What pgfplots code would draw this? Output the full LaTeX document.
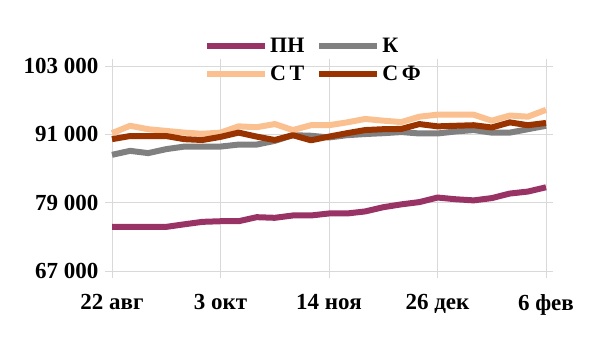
\documentclass[border=0pt]{standalone}
\usepackage{pgfplots}
\pgfplotsset{compat=1.18}
\usepackage{pgfplotstable}
\usepackage{fontspec}
\setmainfont{Liberation Serif}
\definecolor{cpn}{HTML}{993366}
\definecolor{ck}{HTML}{808080}
\definecolor{cst}{HTML}{FAC090}
\definecolor{csf}{HTML}{993300}
\definecolor{cgrid}{HTML}{D9D9D9}
\pgfplotstableread{
i pn k st sf
0 74750 87400 91200 90150
1 74750 88100 92500 90700
2 74750 87700 91900 90700
3 74750 88400 91600 90700
4 75200 88850 91300 90150
5 75630 88850 91100 90000
6 75740 88850 91300 90550
7 75740 89200 92400 91300
8 76450 89200 92250 90600
9 76340 89850 92800 90000
10 76750 90850 91750 90850
11 76750 90750 92600 89950
12 77100 90450 92600 90600
13 77100 90850 93100 91200
14 77460 91050 93700 91750
15 78200 91200 93400 91900
16 78700 91400 93150 91950
17 79100 91150 94100 92800
18 79900 91150 94450 92400
19 79600 91500 94450 92500
20 79400 91750 94450 92600
21 79800 91300 93400 92200
22 80600 91300 94300 93100
23 80950 91900 94100 92600
24 81700 92500 95300 93000
}\datatable
\begin{document}
\begin{tikzpicture}[x=1pt,y=1pt]
\begin{axis}[
  at={(112pt,87pt)}, anchor=south west,
  scale only axis, width=434pt, height=205pt,
  xmin=0, xmax=24, ymin=67000, ymax=103000,
  scaled y ticks=false,
  xtick={0,6,12,18,24},
  xticklabels={22 авг, 3 окт, 14 ноя, 26 дек, 6 фев},
  ytick={67000,79000,91000,103000},
  yticklabels={67 000, 79 000, 91 000, 103 000},
  axis line style={draw=none},
  grid=major,
  grid style={cgrid, line width=0.8pt},
  tick style={cgrid, line width=0.8pt},
  tick align=outside,
  major tick length=7pt,
  ticklabel style={font=\fontsize{23}{26}\selectfont\bfseries, text=black},
  yticklabel style={xshift=-3pt},
  xticklabel style={yshift=-13pt},
  legend columns=2,
  legend style={at={(0.212,1.145)}, anchor=north west, draw=none, fill=none,
    inner sep=0pt, font=\fontsize{22}{25}\selectfont\bfseries,
    /tikz/every even column/.append style={column sep=10pt},
    row sep=8pt, cells={anchor=west}},
  legend image code/.code={\draw[#1, line width=6pt] (0pt,0pt) -- (58pt,0pt);},
  every axis plot/.append style={line width=6pt, line join=round, no marks},
  clip=false,
]
\addplot[cpn] table[x=i, y=pn] {\datatable};
\addlegendentry{ПН}
\addplot[ck] table[x=i, y=k] {\datatable};
\addlegendentry{К}
\addplot[cst] table[x=i, y=st] {\datatable};
\addlegendentry{С\,Т}
\addplot[csf] table[x=i, y=sf] {\datatable};
\addlegendentry{С\,Ф}
\end{axis}
\pgfresetboundingbox
\path (0,0) rectangle (600,358);
\end{tikzpicture}
\end{document}
